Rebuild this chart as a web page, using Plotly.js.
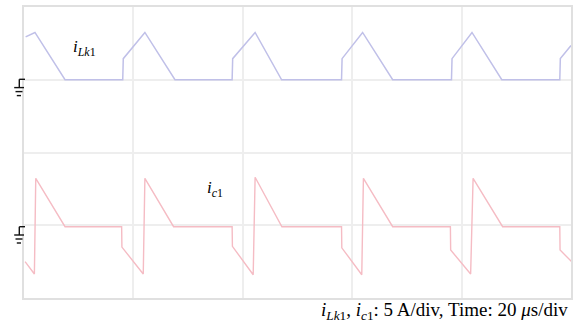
<!DOCTYPE html>
<html>
<head>
<meta charset="utf-8">
<script src="https://cdn.plot.ly/plotly-3.0.1.min.js"></script>
<style>html,body{margin:0;padding:0;background:#fff;}#chart{width:575px;height:325px;}</style>
</head>
<body>
<div id="chart"></div>
<script>
// Time in microseconds (20 us/div), currents in A (5 A/div)
var tLk1 = [0.6, 4.0, 15.0, 36.1, 36.3, 44.2, 55.2, 76.1, 76.3, 84.5, 94.2, 116.1, 116.3, 123.8, 134.8, 156.3, 156.5, 163.8, 174.7, 195.9, 196.1, 200.0];
var iLk1 = [5.9, 6.5, 0.0, 0.0, 2.9, 6.5, 0.0, 0.0, 2.9, 6.5, 0.0, 0.0, 2.9, 6.5, 0.0, 0.0, 2.9, 6.5, 0.0, 0.0, 2.9, 4.7];

var tC1 = [0.4, 3.8, 4.3, 15.0, 35.7, 35.8, 43.6, 44.2, 54.7, 76.1, 76.2, 83.8, 84.5, 94.3, 116.1, 116.2, 123.5, 124.1, 134.8, 155.9, 156.0, 163.3, 164.2, 175.0, 195.9, 196.0, 200.2];
var iC1 = [-4.8, -6.5, 6.65, 0.0, 0.0, -2.8, -6.5, 6.65, 0.0, 0.0, -2.7, -6.6, 6.8, 0.0, 0.0, -2.9, -6.6, 6.65, 0.0, 0.0, -3.2, -6.5, 6.65, 0.0, 0.0, -3.2, -4.8];

var labelLk1 = '<i>i</i><sub><i>Lk</i>1</sub>';
var labelC1 = '<i>i</i><sub><i>c</i>1</sub>';
var caption = '<i>i</i><sub><i>Lk</i>1</sub>, <i>i</i><sub><i>c</i>1</sub>: 5 A/div, Time: 20 <i>\u03bc</i>s/div';

// plot-area pixel geometry helpers (for ground markers only)
var L = 24, T = 7, W = 547, H = 291;
function px(x){ return (x - L) / W; }
function py(y){ return (T + H - y) / H; }

function ground(y0){
  var s = {type:'line', xref:'paper', yref:'paper', line:{color:'#111', width:1.4}};
  function seg(x0,ya,x1,yb){ return Object.assign({}, s, {x0:px(x0), y0:py(ya), x1:px(x1), y1:py(yb)}); }
  return [
    seg(19.3, y0, 25, y0),
    seg(19.3, y0, 19.3, y0 + 8.3),
    seg(14.2, y0 + 8.3, 24, y0 + 8.3),
    seg(15.5, y0 + 12.3, 22.5, y0 + 12.3),
    seg(16.8, y0 + 16.3, 21.0, y0 + 16.3)
  ];
}

var traces = [
  {x: tLk1, y: iLk1, type:'scatter', mode:'lines', line:{color:'#c0c0e8', width:1.5}, yaxis:'y', hoverinfo:'skip'},
  {x: tC1, y: iC1, type:'scatter', mode:'lines', line:{color:'#f5bcc4', width:1.4}, yaxis:'y2', hoverinfo:'skip'}
];

var serif = '"Liberation Serif", "Times New Roman", Times, serif';

var layout = {
  width: 575, height: 325,
  margin: {l: 24, r: 4, t: 7, b: 27},
  paper_bgcolor: '#fff', plot_bgcolor: '#fff',
  showlegend: false,
  xaxis: {range:[0,200], dtick:40, tick0:0, showgrid:true, gridcolor:'#eeeeee', gridwidth:2,
          zeroline:false, showticklabels:false, ticks:'', showline:true, mirror:true, linecolor:'#e0e0e0', linewidth:2},
  yaxis: {range:[-30,10], dtick:10, tick0:0, showgrid:true, gridcolor:'#eeeeee', gridwidth:2,
          zeroline:false, showticklabels:false, ticks:'', showline:true, mirror:true, linecolor:'#e0e0e0', linewidth:2},
  yaxis2: {range:[-9.8,30.2], overlaying:'y', showgrid:false, zeroline:false, showticklabels:false, ticks:'', showline:false},
  shapes: ground(79.3).concat(ground(226.7)),
  annotations: [
    {text: labelLk1, xref:'x', yref:'y', x:22.3, y:4.4, showarrow:false, font:{family:serif, size:17, color:'#000'}},
    {text: labelC1, xref:'x', yref:'y2', x:70, y:5.2, showarrow:false, font:{family:serif, size:17, color:'#000'}},
    {text: caption, xref:'paper', yref:'paper', x:0.998, y:py(311), xanchor:'right', yanchor:'middle', showarrow:false, font:{family:serif, size:19, color:'#000'}}
  ]
};

Plotly.newPlot('chart', traces, layout, {displayModeBar:false, staticPlot:true});
</script>
</body>
</html>
